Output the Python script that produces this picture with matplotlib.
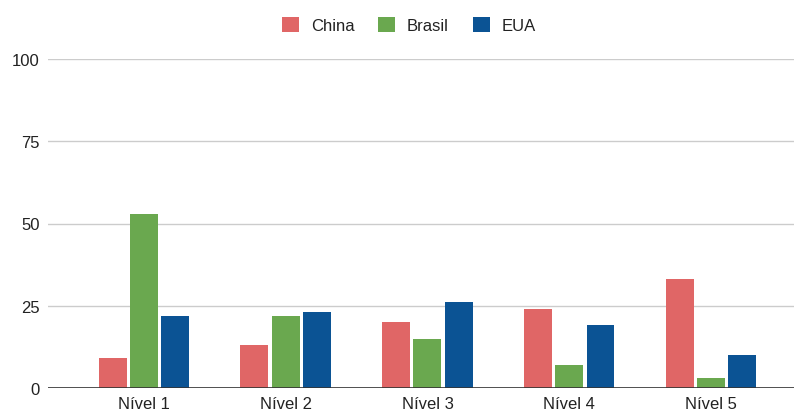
import matplotlib

matplotlib.use("Agg")
import matplotlib.pyplot as plt
import numpy as np
from matplotlib.patches import Rectangle

categories = ["Nível 1", "Nível 2", "Nível 3", "Nível 4", "Nível 5"]
series_names = ["China", "Brasil", "EUA"]
china = [9, 13, 20, 24, 33]
brasil = [53, 22, 15, 7, 3]
eua = [22, 23, 26, 19, 10]
colors = ["#e06666", "#6aa84f", "#0b5394"]
y_ticks = [0, 25, 50, 75, 100]

plt.rcParams["font.family"] = ["Liberation Sans", "DejaVu Sans"]
plt.rcParams["font.size"] = 12

fig = plt.figure(figsize=(7.94, 4.10), dpi=100)
W, H = 794, 410
ax = fig.add_axes([48 / W, 1 - 389 / H, (794 - 48) / W, (389 - 60) / H])

x = np.arange(len(categories))
offset = 0.22
width = 0.197
for i, (vals, col) in enumerate(zip([china, brasil, eua], colors)):
    ax.bar(x + (i - 1) * offset, vals, width=width, color=col, zorder=3)

ax.set_xlim(-0.675, 4.584)
ax.set_ylim(0, 100)
ax.set_yticks(y_ticks)
ax.set_xticks(x)
ax.set_xticklabels(categories)
ax.grid(axis="y", color="#cccccc", linewidth=1.0, zorder=0)
ax.axhline(0, color="#333333", linewidth=1.2, zorder=4)
for side in ["top", "right", "left", "bottom"]:
    ax.spines[side].set_visible(False)
ax.tick_params(axis="both", length=0, colors="#222222", labelsize=12)
ax.tick_params(axis="y", pad=6)
ax.tick_params(axis="x", pad=6)

handles = [Rectangle((0, 0), 1, 1, facecolor=c, edgecolor="none") for c in colors]
fig.legend(
    handles,
    series_names,
    loc="center",
    bbox_to_anchor=(409 / W, 1 - 25.7 / H),
    ncol=3,
    frameon=False,
    handlelength=1.0,
    handleheight=1.0,
    handletextpad=0.72,
    columnspacing=1.44,
    fontsize=12,
    labelcolor="#222222",
)

fig.savefig("out.png", dpi=100)
plt.close(fig)
